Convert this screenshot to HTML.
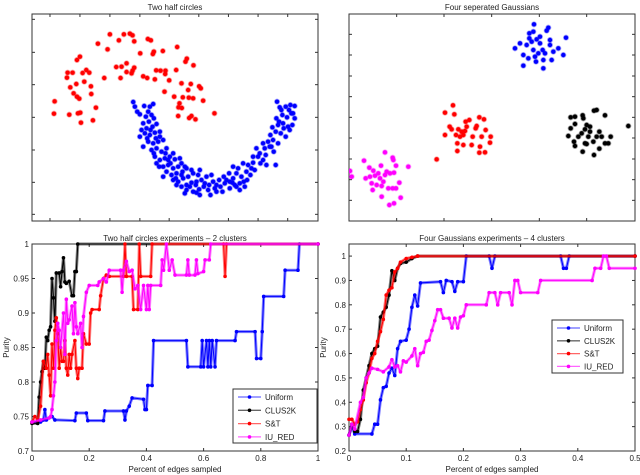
<!DOCTYPE html>
<html><head><meta charset="utf-8"><style>
html,body{margin:0;padding:0;background:#fff;width:640px;height:475px;overflow:hidden}
svg{display:block;font-family:"Liberation Sans",sans-serif}
</style></head><body>
<svg id="fig" width="640" height="475" viewBox="0 0 640 475"></svg>
<script>
// ---------- data: top-left "Two half circles" (units in plot data coords) ----------
const halfRedX=[330,372,390,398,357,403,444,453,294,323,532,462,489,421,459,240,231,561,557,380,365,349,403,398,380,395,469,482,497,529,581,203,218,259,268,248,201,313,362,430,442,465,508,496,545,573,598,603,253,229,211,273,565,494,221,231,238,274,523,549,567,580,610,164,539,536,546,288,241,234,162,208,535,575,568,587,644,279,243];
const halfRedY=[103,103,101,106,121,124,117,121,131,148,141,155,153,160,162,170,180,176,185,190,200,201,203,212,216,220,211,212,212,210,196,218,218,210,218,219,233,234,234,229,234,238,241,222,250,252,259,265,245,252,262,259,270,275,280,290,296,282,290,292,293,295,302,304,310,322,324,323,338,340,341,344,348,348,354,358,340,361,368];
const halfBlueX=[400,405,412,420,433,450,460,445,438,455,462,447,430,440,458,470,420,435,450,465,480,445,460,475,490,455,470,485,500,465,480,495,510,525,540,470,490,505,520,535,545,500,515,530,548,560,575,520,535,550,565,580,595,545,560,575,590,605,620,635,560,580,598,612,628,645,632,650,662,675,690,672,688,700,710,705,690,720,735,725,740,752,765,730,745,760,775,790,800,828,780,795,810,822,805,820,835,812,828,843,858,870,818,835,850,865,878,830,848,862,875,885,845,858,872,885,832,840,520,505,555,600,640,658,700,715,770,790,480,430,490,530,555,600,720,742,425,452,468,442,497,512,545,570,588,615,625,668,680,698,732,755,782,798,815,852,868,880,462,478,528,590,650,710,760,838];
const halfBlueY=[306,320,335,343,318,320,312,335,350,345,355,365,370,385,380,372,410,400,405,398,410,425,430,425,420,450,445,455,445,470,480,475,470,478,475,490,500,495,505,500,490,515,525,520,515,505,510,540,545,535,530,520,525,560,555,548,545,540,530,525,570,575,568,560,555,565,585,575,560,550,545,530,520,535,520,555,565,550,560,530,515,525,510,490,495,488,470,480,495,495,460,445,440,455,425,420,430,405,395,400,410,390,382,375,370,380,375,355,345,352,340,355,330,320,315,318,305,322,460,480,500,510,545,540,500,505,445,430,395,440,530,555,580,585,570,540,390,390,415,415,460,490,525,560,555,550,570,575,540,548,545,505,490,465,440,385,330,340,460,500,535,578,555,560,470,365];
// ---------- data: top-right "Four seperated Gaussians" ----------
const gBlueX=[642,685,628,640,680,738,600,585,620,635,650,660,668,690,715,700,730,610,625,648,670,695,610,670,655,640,675,660,628,690,645];
const gBlueY=[73,83,100,95,92,113,130,145,135,125,118,130,150,135,145,155,165,165,175,185,180,180,197,205,160,150,160,110,115,120,170];
const gRedX=[399,375,403,478,492,448,437,389,395,415,425,435,470,467,497,375,408,430,458,485,512,412,430,455,480,510,350,412,478,495,420,440];
const gRedY=[316,338,343,352,358,360,365,380,388,388,395,393,378,385,390,405,405,405,410,410,410,430,435,435,440,428,478,453,458,457,410,380];
const gBlackX=[752,765,788,822,830,855,925,765,790,800,752,795,810,838,745,775,805,830,845,872,762,795,820,855,865,765,800,838,788,822,810,785];
const gBlackY=[352,350,346,332,330,346,378,372,355,375,385,388,395,395,408,410,410,410,410,410,425,430,425,430,430,438,432,446,455,465,380,400];
const gMagX=[90,95,132,195,218,220,148,183,228,265,160,175,200,222,137,150,165,180,195,210,155,170,185,205,218,228,238,158,185,208,222,242,190];
const gMagY=[513,530,482,457,473,480,503,497,497,500,512,520,515,518,535,530,527,535,525,520,550,555,558,565,565,565,548,570,590,615,610,593,545];
// ---------- data: bottom-left experiment ----------
const seriesNames=["Uniform","CLUS2K","S&T","IU_RED"];
const lxTicks=[0,0.2,0.4,0.6,0.8,1];
const lyTicks=[0.7,0.75,0.8,0.85,0.9,0.95,1];
const lUniX=[0,0.03,0.04,0.045,0.05,0.07,0.08,0.15,0.155,0.19,0.195,0.25,0.255,0.32,0.325,0.33,0.34,0.35,0.39,0.395,0.4,0.405,0.42,0.425,0.54,0.545,0.59,0.595,0.6,0.61,0.615,0.62,0.625,0.63,0.64,0.645,0.71,0.715,0.78,0.785,0.8,0.805,0.81,0.88,0.885,0.93,0.935,1];
const lUniY=[0.742,0.742,0.745,0.76,0.745,0.75,0.745,0.744,0.755,0.755,0.744,0.744,0.758,0.758,0.745,0.758,0.765,0.777,0.775,0.76,0.76,0.795,0.795,0.86,0.86,0.822,0.822,0.86,0.822,0.86,0.822,0.86,0.822,0.86,0.822,0.86,0.86,0.873,0.873,0.834,0.834,0.873,0.924,0.924,0.962,0.962,1,1];
const lClusX=[0,0.02,0.025,0.03,0.035,0.04,0.045,0.05,0.055,0.06,0.065,0.07,0.075,0.08,0.085,0.095,0.1,0.105,0.11,0.115,0.12,0.13,0.14,0.145,0.15,0.155,0.16,1];
const lClusY=[0.74,0.74,0.778,0.8,0.815,0.83,0.82,0.865,0.86,0.875,0.88,0.95,0.922,0.888,0.958,0.958,0.938,0.96,0.98,0.945,0.943,0.946,0.925,0.925,0.96,0.96,1,1];
const lSTX=[0,0.01,0.02,0.03,0.04,0.05,0.055,0.06,0.065,0.07,0.075,0.08,0.085,0.09,0.095,0.1,0.105,0.11,0.115,0.12,0.125,0.13,0.135,0.14,0.15,0.155,0.16,0.165,0.175,0.18,0.19,0.2,0.205,0.21,0.235,0.24,0.25,0.26,0.27,0.32,0.325,0.33,0.35,0.355,0.37,0.375,0.38,0.415,0.42,0.67,0.675,0.68,1];
const lSTY=[0.742,0.75,0.745,0.765,0.83,0.82,0.84,0.81,0.78,0.855,0.82,0.875,0.893,0.87,0.82,0.85,0.83,0.83,0.86,0.82,0.81,0.84,0.82,0.84,0.86,0.82,0.805,0.82,0.82,0.87,0.855,0.855,0.9,0.905,0.905,0.925,0.95,0.955,0.953,0.953,1,0.953,0.953,0.905,0.905,1,0.953,0.953,1,1,0.953,1,1];
const lIUX=[0,0.03,0.06,0.065,0.07,0.075,0.08,0.085,0.09,0.095,0.1,0.11,0.115,0.12,0.125,0.13,0.14,0.145,0.15,0.155,0.16,0.17,0.175,0.18,0.19,0.2,0.23,0.235,0.25,0.26,0.27,0.31,0.315,0.32,0.33,0.34,0.35,0.36,0.37,0.38,0.39,0.4,0.405,0.41,0.415,0.45,0.455,0.46,0.47,0.48,0.49,0.5,0.54,0.545,0.55,0.57,0.575,0.58,0.6,0.605,0.62,0.625,1];
const lIUY=[0.742,0.745,0.748,0.75,0.76,0.78,0.8,0.86,0.885,0.875,0.85,0.9,0.84,0.92,0.885,0.89,0.91,0.87,0.915,0.88,0.87,0.885,0.85,0.895,0.93,0.94,0.94,0.945,0.95,0.945,0.962,0.962,0.93,0.962,0.975,0.96,0.962,0.935,0.94,0.905,0.94,0.905,0.94,0.905,0.94,0.94,0.977,0.962,1,0.962,0.977,0.955,0.955,0.977,0.955,0.955,0.977,0.957,0.96,0.977,0.977,1,1];
// ---------- data: bottom-right experiment ----------
const rxTicks=[0,0.1,0.2,0.3,0.4,0.5];
const ryTicks=[0.2,0.3,0.4,0.5,0.6,0.7,0.8,0.9,1];
const rUniX=[0,0.005,0.01,0.04,0.045,0.05,0.055,0.06,0.065,0.07,0.075,0.08,0.085,0.09,0.1,0.105,0.11,0.115,0.12,0.125,0.16,0.165,0.17,0.18,0.185,0.19,0.2,0.205,0.245,0.25,0.255,0.37,0.375,0.38,0.385,0.5];
const rUniY=[0.265,0.3,0.27,0.27,0.31,0.31,0.41,0.46,0.465,0.52,0.54,0.51,0.62,0.65,0.655,0.7,0.79,0.84,0.795,0.89,0.895,0.85,0.9,0.895,0.855,0.895,0.895,1,1,0.95,1,1,0.95,0.95,1,1];
const rClusX=[0,0.005,0.01,0.015,0.02,0.025,0.03,0.035,0.04,0.045,0.05,0.055,0.06,0.065,0.07,0.075,0.08,0.085,0.09,0.1,0.11,0.12,0.5];
const rClusY=[0.265,0.31,0.28,0.28,0.33,0.45,0.5,0.55,0.6,0.62,0.63,0.75,0.77,0.79,0.84,0.94,0.9,0.95,0.97,0.975,0.99,1,1];
const rSTX=[0,0.005,0.01,0.015,0.02,0.025,0.03,0.035,0.04,0.045,0.05,0.055,0.06,0.065,0.07,0.075,0.08,0.085,0.09,0.1,0.11,0.12,0.5];
const rSTY=[0.33,0.33,0.31,0.32,0.37,0.41,0.48,0.52,0.58,0.6,0.65,0.69,0.74,0.84,0.86,0.87,0.935,0.95,0.975,0.99,0.995,1,1];
const rIUX=[0,0.005,0.01,0.02,0.025,0.03,0.035,0.04,0.05,0.06,0.07,0.075,0.08,0.085,0.09,0.095,0.1,0.11,0.115,0.12,0.125,0.13,0.135,0.14,0.145,0.15,0.155,0.16,0.165,0.175,0.18,0.185,0.19,0.195,0.2,0.205,0.24,0.245,0.255,0.26,0.265,0.28,0.285,0.29,0.295,0.3,0.33,0.335,0.425,0.43,0.44,0.445,0.45,0.455,0.5];
const rIUY=[0.265,0.31,0.29,0.4,0.42,0.5,0.52,0.54,0.535,0.525,0.545,0.575,0.545,0.55,0.525,0.57,0.565,0.59,0.62,0.55,0.6,0.605,0.65,0.655,0.695,0.735,0.78,0.78,0.745,0.745,0.705,0.745,0.705,0.75,0.755,0.8,0.8,0.85,0.85,0.8,0.85,0.85,0.8,0.9,0.9,0.85,0.85,0.9,0.9,0.95,0.95,1,1,0.95,0.95];

const NS="http://www.w3.org/2000/svg";
const svg=document.getElementById('fig');
function mk(tag,attrs,parent){const e=document.createElementNS(NS,tag);for(const k in attrs)e.setAttribute(k,attrs[k]);(parent||svg).appendChild(e);return e;}
function txt(x,y,s,size,anchor,parent,rot){const t=mk('text',{x:x,y:y,'font-size':size,'text-anchor':anchor||'middle',fill:'#222'},parent);if(rot)t.setAttribute('transform','rotate(-90 '+x+' '+y+')');t.textContent=s;return t;}
function scale(d0,d1,r0,r1){return v=>r0+(v-d0)/(d1-d0)*(r1-r0);}

function axesBox(g,x0,y0,x1,y1,xt,yt){
  mk('rect',{x:x0,y:y0,width:x1-x0,height:y1-y0,fill:'none',stroke:'#333','stroke-width':1},g);
  xt.forEach(px=>{mk('line',{x1:px,y1:y1,x2:px,y2:y1-3,stroke:'#333'},g);mk('line',{x1:px,y1:y0,x2:px,y2:y0+3,stroke:'#333'},g);});
  yt.forEach(py=>{mk('line',{x1:x0,y1:py,x2:x0+3,y2:py,stroke:'#333'},g);mk('line',{x1:x1,y1:py,x2:x1-3,y2:py,stroke:'#333'},g);});
}
function star(g,x,y,c){
  mk('circle',{cx:x,cy:y,r:2.2,fill:c,stroke:c,'stroke-opacity':0.35,'stroke-width':1.6},g);
}

// ---- top-left
(function(){
  const g=mk('g',{});
  
  
  const X=scale(96,955,32,318), Y=scale(42,663,14,221);
  const t=txt(175,10,'Two half circles',8,'middle',g);
  
  
  axesBox(g,32,14,318,221,[150,240,330,420,508,597,686,775,864].map(X),[58,157,254,352,450,547,643].map(Y));
  halfRedX.forEach((v,i)=>{star(g,X(v),Y(halfRedY[i]),'#f00');});
  halfBlueX.forEach((v,i)=>{star(g,X(v),Y(halfBlueY[i]),'#00f');});
})();
// ---- top-right
(function(){
  const g=mk('g',{});
  
  
  const X=scale(87,945,349,635), Y=scale(42,663,14,221);
  const t=txt(492,10,'Four seperated Gaussians',8,'middle',g);
  
  
  axesBox(g,349,14,635,221,[230,372,515,658,800].map(X),[103,165,228,290,352,414,477,539,601].map(Y));
  const cl=mk('clipPath',{id:'cpTR'},g);mk('rect',{x:349,y:14,width:286,height:207},cl);
  const pg=mk('g',{'clip-path':'url(#cpTR)'},g);
  gBlueX.forEach((v,i)=>star(pg,X(v),Y(gBlueY[i]),'#00f'));
  gRedX.forEach((v,i)=>star(pg,X(v),Y(gRedY[i]),'#f00'));
  gBlackX.forEach((v,i)=>star(pg,X(v),Y(gBlackY[i]),'#000'));
  gMagX.forEach((v,i)=>star(pg,X(v),Y(gMagY[i]),'#f0f'));
})();

const colors=['#00f','#000','#f00','#f0f'];
function linePanel(opt){
  const g=mk('g',{});
  
  
  const {x0,y0,x1,y1}=opt;
  const X=scale(opt.xd[0],opt.xd[1],x0,x1), Y=scale(opt.yd[0],opt.yd[1],y1,y0);
  const t=txt((x0+x1)/2,241,opt.title,8,'middle',g);
  
  
  axesBox(g,x0,y0,x1,y1,opt.xt.map(X),opt.yt.map(Y));
  opt.xt.forEach(v=>txt(X(v),y1+10,String(v),8,'middle',g));
  opt.yt.forEach(v=>txt(x0-3,Y(v)+3,String(v),8,'end',g));
  const xl=txt((x0+x1)/2,472,'Percent of edges sampled',8,'middle',g);
  
  
  const yl=txt(x0-23,(y0+y1)/2,'Purity',8,'middle',g,true);
  
  
  opt.series.forEach((s,si)=>{
    const c=colors[si];
    const sg=mk('g',{},g);
    
    
    const pts=s[0].map((v,i)=>X(v).toFixed(1)+','+Y(s[1][i]).toFixed(1)).join(' ');
    mk('polyline',{points:pts,fill:'none',stroke:c,'stroke-width':3,'stroke-opacity':0.5,'stroke-linejoin':'round'},sg);
    mk('polyline',{points:pts,fill:'none',stroke:c,'stroke-width':1},sg);
    s[0].forEach((v,i)=>mk('circle',{cx:X(v),cy:Y(s[1][i]),r:1.8,fill:c},sg));
  });
  // legend
  const L=opt.leg;
  const lg=mk('g',{},g);
  
  
  mk('rect',{x:L.x,y:L.y,width:L.w,height:L.h,fill:'#fff',stroke:'#333'},lg);
  seriesNames.forEach((n,i)=>{
    const e=mk('g',{},lg);
    
    
    const yy=L.y+8+i*L.dy;
    mk('line',{x1:L.x+5,y1:yy,x2:L.x+28,y2:yy,stroke:colors[i],'stroke-width':1.3,'stroke-opacity':0.6},e);
    mk('circle',{cx:L.x+16.5,cy:yy,r:1.8,fill:colors[i]},e);
    txt(L.x+32,yy+3,n,8,'start',e);
  });
}
linePanel({name:'two-half-circles-experiment',title:'Two half circles experiments \u2013 2 clusters',x0:32,y0:244,x1:318,y1:451,xd:[0,1],yd:[0.7,1],xt:lxTicks,yt:lyTicks,
  series:[[lUniX,lUniY],[lClusX,lClusY],[lSTX,lSTY],[lIUX,lIUY]],leg:{x:233,y:389,w:84,h:54,dy:13.3}});
linePanel({name:'four-gaussians-experiment',title:'Four Gaussians experiments \u2013 4 clusters',x0:349,y0:244,x1:635,y1:451,xd:[0,0.5],yd:[0.2,1.0496],xt:rxTicks,yt:ryTicks,
  series:[[rUniX,rUniY],[rClusX,rClusY],[rSTX,rSTY],[rIUX,rIUY]],leg:{x:552,y:320,w:71,h:53,dy:12.8}});
</script>
</body></html>
